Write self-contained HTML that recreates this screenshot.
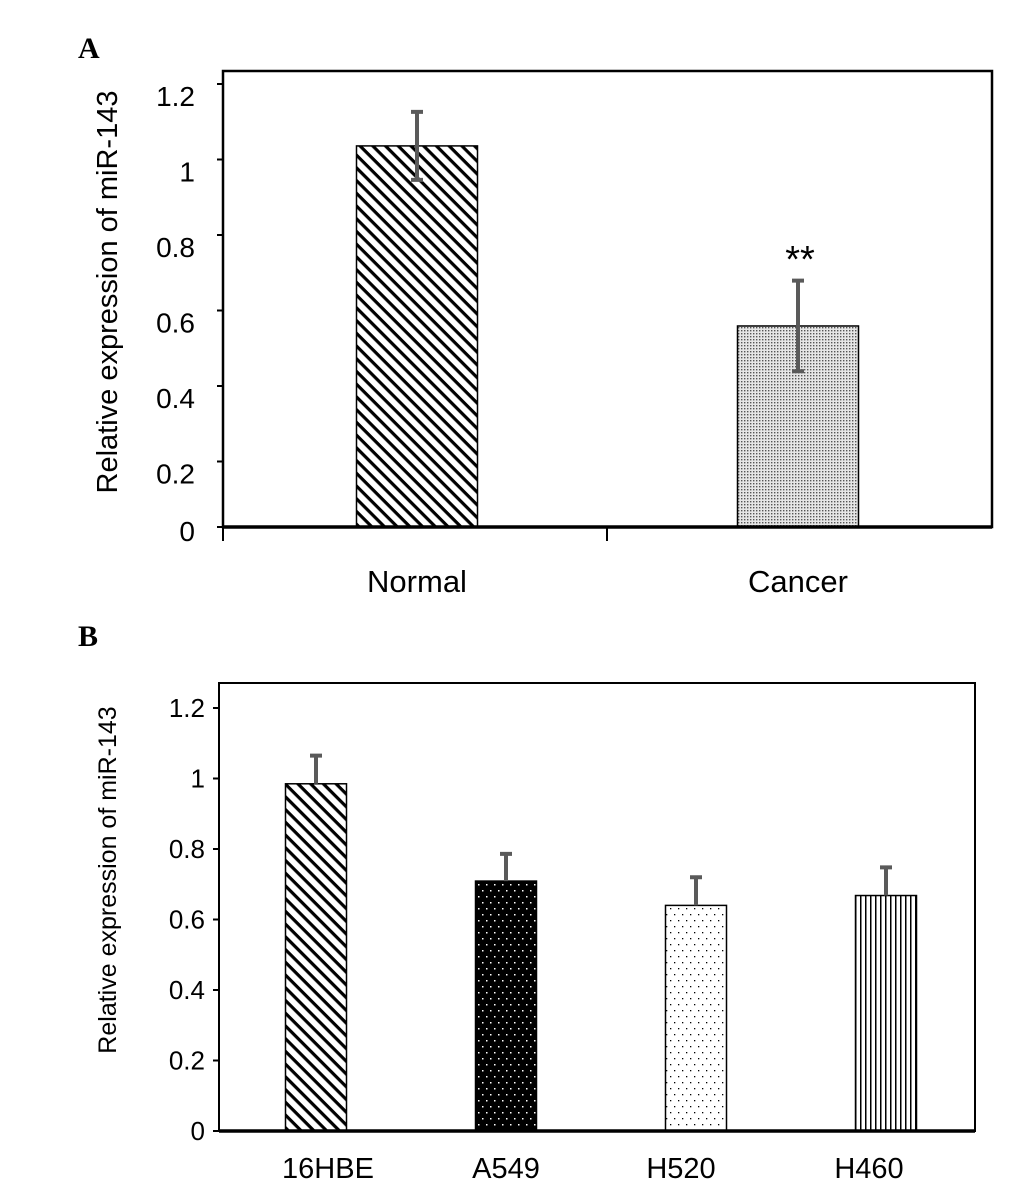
<!DOCTYPE html>
<html><head><meta charset="utf-8"><style>
html,body{margin:0;padding:0;background:#fff;width:1033px;height:1204px;overflow:hidden}
text{font-family:"Liberation Sans",sans-serif;fill:#000}
</style></head><body>
<svg id="fig" width="1033" height="1204" viewBox="0 0 1033 1204" xmlns="http://www.w3.org/2000/svg">
<defs>
<pattern id="hatch" patternUnits="userSpaceOnUse" width="9" height="9" patternTransform="rotate(45)">
<rect width="9" height="9" fill="#fff"/><rect x="0" y="0" width="9" height="3.2" fill="#000"/></pattern>
<pattern id="fineDots" patternUnits="userSpaceOnUse" width="3" height="3">
<rect width="3" height="3" fill="#e6e6e6"/><rect x="0" y="0" width="1.4" height="1.4" fill="#555"/></pattern>
<pattern id="whiteDots" patternUnits="userSpaceOnUse" width="8" height="12">
<rect width="8" height="12" fill="#000"/><rect x="2" y="2" width="1.5" height="1.5" fill="#fff"/><rect x="6" y="8" width="1.5" height="1.5" fill="#fff"/></pattern>
<pattern id="sparseDots" patternUnits="userSpaceOnUse" width="8" height="12">
<rect width="8" height="12" fill="#fff"/><rect x="2" y="2" width="1.3" height="1.3" fill="#000"/><rect x="6" y="8" width="1.3" height="1.3" fill="#000"/></pattern>
<pattern id="vlines" patternUnits="userSpaceOnUse" width="5" height="10">
<rect width="5" height="10" fill="#fff"/><rect x="0" y="0" width="1.5" height="10" fill="#000"/></pattern>
</defs>
<text x="78" y="58" style="font-family:'Liberation Serif',serif;font-weight:bold;font-size:30px">A</text>
<text x="78" y="646" style="font-family:'Liberation Serif',serif;font-weight:bold;font-size:30px">B</text>
<g id="chartA"></g>
<g id="chartB"></g>
</svg>
<script>
const catsA = ["Normal","Cancer"];
const valsA = [1.036, 0.559];
const errsA = [0.09, 0.12];
const fillsA = ["url(#hatch)","url(#fineDots)"];
const ticksA = [0,0.2,0.4,0.6,0.8,1,1.2];
const tickLabelsA = ["0","0.2","0.4","0.6","0.8","1","1.2"];

const catsB = ["16HBE","A549","H520","H460"];
const valsB = [0.985, 0.709, 0.64, 0.668];
const errsB = [0.08, 0.077, 0.08, 0.08];
const fillsB = ["url(#hatch)","url(#whiteDots)","url(#sparseDots)","url(#vlines)"];
const ticksB = [0,0.2,0.4,0.6,0.8,1,1.2];
const tickLabelsB = ["0","0.2","0.4","0.6","0.8","1","1.2"];

const NS="http://www.w3.org/2000/svg";
function mk(parent,tag,attrs,txt){const e=document.createElementNS(NS,tag);for(const k in attrs)e.setAttribute(k,attrs[k]);if(txt!==undefined)e.textContent=txt;parent.appendChild(e);return e;}

// Panel A
(function(){
const g=document.getElementById('chartA');
const L=223,T=71,R=992,B=527;
const y=v=>537-v*377.5;
const bw=121;
let f=mk(g,'rect',{x:L,y:T,width:R-L,height:B-T,fill:'none',stroke:'#000','stroke-width':2.5});

ticksA.forEach((t,i)=>{
 const ty=Math.min(y(t),B);
 let tk=mk(g,'line',{x1:L-6,x2:L,y1:ty,y2:ty,stroke:'#000','stroke-width':2});
 
 let lb=mk(g,'text',{x:L-28,y:Math.min(y(t)+22,541),'text-anchor':'end','font-size':'28'},tickLabelsA[i]);
 
});
catsA.forEach((c,i)=>{
 const cx=[417,798][i];
 let b=mk(g,'rect',{x:cx-bw/2,y:y(valsA[i]),width:bw,height:B-y(valsA[i]),fill:fillsA[i],stroke:'#000','stroke-width':1.5});
 
 const e1=y(valsA[i]+errsA[i]),e2=y(valsA[i]-errsA[i]);
 let eb=mk(g,'path',{d:`M${cx},${e1}V${e2}M${cx-6},${e1}H${cx+6}M${cx-6},${e2}H${cx+6}`,stroke:'#5a5a5a','stroke-width':4,fill:'none'});
 
 let xl=mk(g,'text',{x:cx,y:592,'text-anchor':'middle','font-size':'31'},c);
 
});
let st=mk(g,'text',{x:800,y:272,'text-anchor':'middle','font-size':'38'},'**');

let ax=mk(g,'line',{x1:L,x2:R,y1:B,y2:B,stroke:'#000','stroke-width':3.5});

[L,607].forEach(tx=>{let t=mk(g,'line',{x1:tx,x2:tx,y1:B,y2:B+14,stroke:'#000','stroke-width':2});});
let yt=mk(g,'text',{x:0,y:0,'text-anchor':'middle','font-size':'29',transform:'translate(117,292) rotate(-90)'},'Relative expression of miR-143');

})();

// Panel B
(function(){
const g=document.getElementById('chartB');
const L=219,T=683,R=975,B=1131;
const y=v=>B-v*352.5;
const bw=61;
let f=mk(g,'rect',{x:L,y:T,width:R-L,height:B-T,fill:'none',stroke:'#000','stroke-width':2});

ticksB.forEach((t,i)=>{
 let tk=mk(g,'line',{x1:L-6,x2:L,y1:y(t),y2:y(t),stroke:'#000','stroke-width':2});
 
 let lb=mk(g,'text',{x:L-14,y:y(t)+9,'text-anchor':'end','font-size':'26'},tickLabelsB[i]);
 
});
const labOff=[12,0,-15,-17];
catsB.forEach((c,i)=>{
 const cx=316+i*190;
 let b=mk(g,'rect',{x:cx-bw/2,y:y(valsB[i]),width:bw,height:B-y(valsB[i]),fill:fillsB[i],stroke:'#000','stroke-width':1.5});
 
 const e1=y(valsB[i]+errsB[i]),e2=y(valsB[i]);
 let eb=mk(g,'path',{d:`M${cx},${e1}V${e2}M${cx-6},${e1}H${cx+6}`,stroke:'#5a5a5a','stroke-width':4,fill:'none'});
 
 let xl=mk(g,'text',{x:cx+labOff[i],y:1178,'text-anchor':'middle','font-size':'29'},c);
 
});
let ax=mk(g,'line',{x1:L,x2:R,y1:B,y2:B,stroke:'#000','stroke-width':3.5});

let yt=mk(g,'text',{x:0,y:0,'text-anchor':'middle','font-size':'25'},'Relative expression of miR-143');
yt.setAttribute('transform','translate(116,880) rotate(-90)');

})();
</script>
</body></html>
